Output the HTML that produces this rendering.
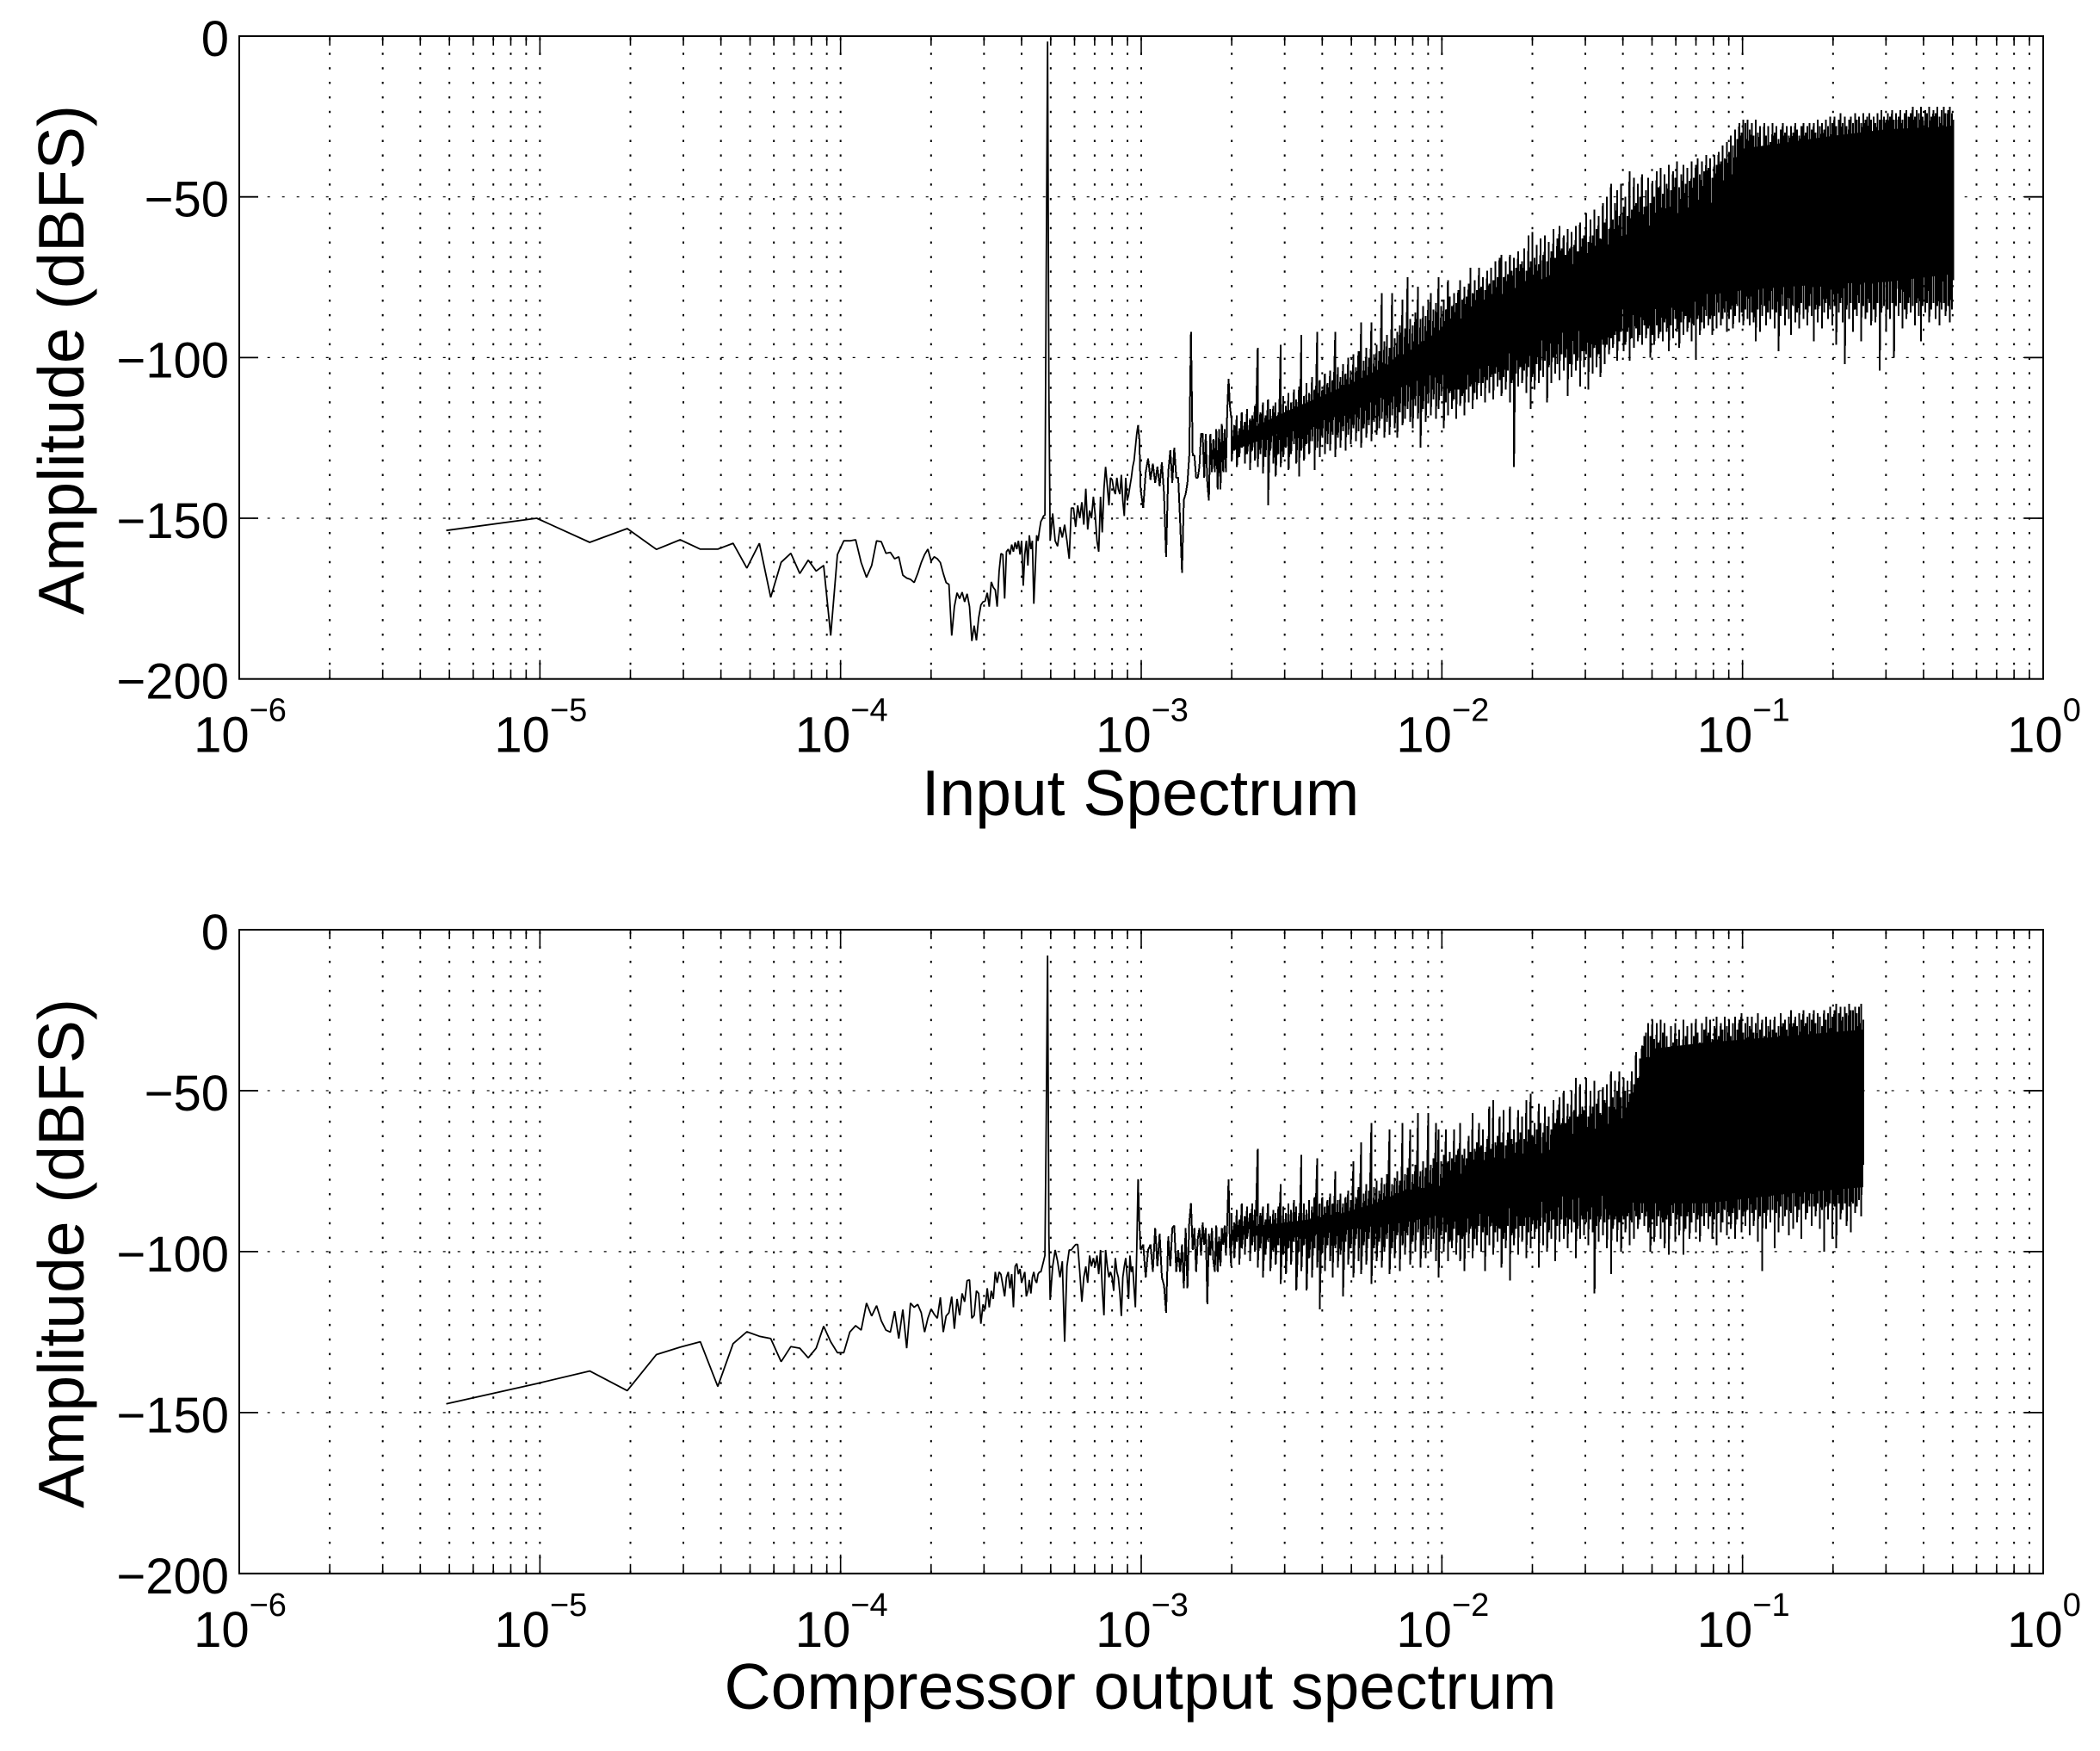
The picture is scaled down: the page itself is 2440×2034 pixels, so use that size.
<!DOCTYPE html>
<html lang="en">
<head>
<meta charset="utf-8">
<title>Input and compressor output spectrum</title>
<style>
html,body{margin:0;padding:0;background:#fff;}
svg{display:block;}
text{font-family:"Liberation Sans",Arial,Helvetica,sans-serif;fill:#000;}
</style>
</head>
<body>
<svg id="figure" xmlns="http://www.w3.org/2000/svg" width="2440" height="2034" viewBox="0 0 2440 2034">
  <rect x="0" y="0" width="2440" height="2034" fill="#ffffff"/>
  <g id="panel-input"></g>
  <g id="panel-output"></g>
  <text transform="translate(97 418) rotate(-90)" text-anchor="middle" font-size="75">Amplitude (dBFS)</text>
  <text x="1325" y="947" text-anchor="middle" font-size="75">Input Spectrum</text>
  <text transform="translate(97 1456) rotate(-90)" text-anchor="middle" font-size="75">Amplitude (dBFS)</text>
  <text x="1325" y="1985" text-anchor="middle" font-size="75">Compressor output spectrum</text>
</svg>
<script>
const xTickExponents = [-6,-5,-4,-3,-2,-1,0];
const xTickExponentLabels = ['−6','−5','−4','−3','−2','−1','0'];
const xTickBaseLabel = '10';
const minorMultipliers = [2,3,4,5,6,7,8,9];
const yTicks = [0,-50,-100,-150,-200];
const yTickLabels = ['0','−50','−100','−150','−200'];
const yGridValues = [-50,-100,-150];
const binWidth = 4.88e-6;
const denseFromBin = 200;

const lowBins = [
1,2,3,4,5,6,7,8,9,10,
11,12,13,14,15,16,17,18,19,20,
21,22,23,24,25,26,27,28,29,30,
31,32,33,34,35,36,37,38,39,40,
41,42,43,44,45,46,47,48,49,50,
51,52,53,54,55,56,57,58,59,60,
61,62,63,64,65,66,67,68,69,70,
71,72,73,74,75,76,77,78,79,80,
81,82,83,84,85,86,87,88,89,90,
91,92,93,94,95,96,97,98,99,100,
101,102,104,106,108,110,112,114,116,118,
120,122,124,126,128,130,132,134,136,138,
140,142,144,146,148,150,152,154,156,158,
160,162,164,166,168,170,172,174,176,178,
180,182,184,186,188,190,192,194,196,198,
200,202,204,208,212,216,220,224,228,232,
236,240,244,248,252,256,260,264,268,272,
276,280,284,288,292,296,300,304,308,312,
316,320,324,328,332,336,340,344,348,352,
356,360,364,368,372,376,380,384,388,392,
396,400,404,408];

const inputLowDb = [
-153.8,-150,-157.5,-153.2,-159.7,-156.7,-159.6,-159.6,-157.8,-165.5,
-157.8,-174.6,-163.7,-160.9,-167.2,-163,-166.4,-164.7,-186.5,-161.3,
-157,-157,-156.7,-163.8,-168.4,-164.7,-157,-157.3,-160.9,-160.6,
-162.6,-162,-167.7,-168.6,-169,-170,-167.2,-163.8,-161.3,-159.6,
-163.3,-162,-162.6,-163.8,-167.2,-170,-170.6,-186.5,-177.5,-173.2,
-175,-173,-176,-173.5,-177.5,-188.2,-183.4,-188,-181,-177,
-176,-175.8,-173.2,-177.5,-169.8,-171.5,-172.3,-177.5,-166.4,-161,
-161.3,-175,-160.4,-159.6,-161.3,-158.2,-160.4,-157.5,-159.6,-157,
-161.3,-157,-171,-161.3,-157,-164.7,-155.3,-159.6,-157,-176.6,
-166.4,-155.3,-157,-153.6,-151,-150.2,-149.3,-149,-74,-1.7,
-110,-157,-148.5,-157,-158.7,-152.7,-156,-152,-157,-162.6,
-146.8,-146.8,-152.7,-146,-150,-145,-152,-140.8,-153.5,-147.6,
-150,-143.3,-149,-157,-160.4,-143.3,-154.4,-140.8,-134,-140,
-146,-137.4,-138,-141,-142.5,-137.4,-141,-142.5,-136.5,-144.5,
-149.3,-137.4,-144.5,-142.8,-140,-137.4,-134,-132,-128,-123.7,
-121,-125.4,-141,-146.8,-135.7,-131.4,-138,-133,-139,-134,
-140,-132.6,-142.5,-162,-135.7,-128.8,-139,-128,-137.4,-137.4,
-151,-167,-144.2,-142.5,-139,-130.5,-92,-130.5,-130.5,-137.4,
-137.4,-134,-123.7,-123.7,-137.4,-123.7,-139,-144.5,-123.7,-135.7,
-125.4,-135.7,-122.3,-141,-122.3,-141,-120.6,-135.7,-122.3,-135.7,
-116.9,-106.6,-115,-118.5];

const outputLowDb = [
-147.3,-141,-137.1,-143.2,-132,-129.7,-128,-141.9,-128.6,-124.9,
-126.3,-127,-134.2,-129.5,-130,-133,-130,-123.2,-128,-131.4,
-131.4,-125,-123,-124.4,-116,-120,-116.8,-121.5,-124.4,-125,
-118.5,-127,-118,-130,-116,-117.3,-116.4,-119,-125,-120.7,
-117.8,-119.5,-120.7,-114.2,-125,-120,-119,-114,-124,-114.7,
-119.8,-113,-115.6,-109,-108.8,-120.7,-119.8,-112.2,-113,-122.4,
-116.4,-118,-111.4,-117.3,-112.2,-114.7,-106.3,-109.7,-106.3,-107.1,
-110.5,-113.9,-108,-106.3,-111.4,-107,-117.3,-104.6,-103.7,-107,
-105.4,-109.7,-108,-106.3,-113.9,-112.2,-108.8,-113,-108,-106.3,
-108.8,-109.7,-107,-106.3,-106.3,-104.6,-103,-101.2,-60,-8,
-95,-115,-104.6,-99.5,-103,-108,-103,-128,-104.6,-99.5,
-99.5,-98.6,-97.8,-97.8,-106.3,-115.6,-108,-104.6,-109.7,-101.2,
-104.6,-102,-104.6,-101.2,-107,-99.5,-111.4,-119.8,-99.5,-104.6,
-108,-106.3,-108,-112.2,-102,-106.3,-108,-113,-120,-108,
-104.6,-102,-108,-114.7,-101.2,-106.3,-104.6,-111.4,-117.3,-99.5,
-77.5,-91,-99.5,-97.8,-108,-99.5,-97.8,-106.3,-92.7,-104.6,
-94.4,-108,-110.5,-119,-95.3,-104.6,-92.7,-91.9,-106.3,-99.5,
-106.3,-97.8,-111.4,-92.7,-111.4,-91,-85,-99.5,-92.7,-106.3,
-96.1,-92.7,-101.2,-91,-97.8,-92.7,-116.4,-94.4,-101.2,-92.7,
-102.9,-106.3,-91.9,-106.3,-95.3,-104.6,-92.7,-97.8,-91.9,-101.2,
-91,-77.5,-97.8,-104.6];

const columnFreqMilli = [
2.00,2.04,2.08,2.12,2.16,2.21,2.25,2.30,2.34,2.39,
2.44,2.49,2.54,2.59,2.64,2.69,2.75,2.80,2.86,2.91,
2.97,3.03,3.09,3.15,3.22,3.28,3.35,3.41,3.48,3.55,
3.62,3.70,3.77,3.85,3.92,4.00,4.08,4.16,4.25,4.33,
4.42,4.51,4.60,4.69,4.78,4.88,4.98,5.08,5.18,5.28,
5.39,5.50,5.61,5.72,5.83,5.95,6.07,6.19,6.31,6.44,
6.57,6.70,6.83,6.97,7.11,7.25,7.40,7.54,7.69,7.85,
8.00,8.16,8.33,8.49,8.66,8.84,9.01,9.19,9.38,9.56,
9.75,9.95,10.15,10.31,10.47,10.64,10.81,10.98,11.16,11.33,
11.51,11.70,11.88,12.07,12.27,12.46,12.66,12.86,13.07,13.28,
13.49,13.70,13.92,14.14,14.37,14.60,14.83,15.07,15.31,15.55,
15.80,16.05,16.31,16.57,16.83,17.10,17.37,17.65,17.93,18.22,
18.51,18.80,19.10,19.41,19.72,20.03,20.35,20.68,21.0,21.3,
21.7,22.0,22.4,22.7,23.1,23.5,23.8,24.2,24.6,25.0,
25.4,25.8,26.2,26.6,27.0,27.5,27.9,28.3,28.8,29.3,
29.7,30.2,30.7,31.2,31.7,32.2,32.7,33.2,33.7,34.3,
34.8,35.4,36.0,36.5,37.1,37.7,38.3,38.9,39.5,40.2,
40.8,41.5,42.1,42.8,43.5,44.2,44.9,45.6,46.3,47.1,
47.8,48.6,49.4,50.1,50.9,51.8,52.6,53.4,54.3,55.1,
56.0,56.9,57.8,58.7,59.7,60.6,61.6,62.6,63.6,64.6,
65.6,66.7,67.7,68.8,69.9,71.0,72.2,73.3,74.5,75.7,
76.9,78.1,79.4,80.6,81.9,83.2,84.6,85.9,87.3,88.7,
90.1,91.5,93.0,94.5,96.0,97.5,99.1,100.7,102.3,103.9,
105.6,107.3,109.0,110.7,112.5,114.3,116.1,118.0,119.8,121.8,
123.7,125.7,127.7,129.7,131.8,133.9,136.0,138.2,140.4,142.6,
144.9,147.2,149.6,152.0,154.4,156.8,159.3,161.9,164.4,167.1,
169.7,172.4,175.2,178.0,180.8,183.7,186.6,189.6,192.6,195.7,
198.8,202,205,209,212,215,219,222,226,229,
233,237,240,244,248,252,256,260,264,268,
273,277,281,286,290,295,300,304,309,314,
319,324,330,335,340,346,351,357,362,368,
374,380,386,392,398,405,411,418,424,431,
438,445,452,459,467,474,482,489,497,503];

const inputPeakDb = [
-119,-121,-118,-122,-117,-120,-116,-119,-118,-115,
-97,-117,-114,-118,-113,-116,-115,-114,-117,-96,
-112,-115,-111,-114,-110,-113,-109,-93,-112,-108,
-111,-106,-110,-92,-107,-110,-105,-108,-104,-107,
-92,-103,-106,-102,-105,-100,-104,-99,-103,-98,
-89,-101,-97,-100,-89,-99,-96,-98,-80,-95,
-93,-97,-80,-94,-92,-90,-82,-91,-75,-88,
-90,-86,-78,-88,-84,-87,-82,-80,-85,-83,
-75,-84,-82,-85,-76,-81,-84,-80,-83,-79,
-76,-82,-78,-81,-77,-72,-80,-76,-79,-72,
-78,-75,-79,-73,-77,-72,-76,-70,-75,-69,
-68,-75,-70,-74,-68,-73,-69,-72,-67,-71,
-70,-66,-73,-62,-70,-61,-69,-65,-71,-63,
-68,-62,-70,-64,-67,-60,-69,-63,-59,-66,
-62,-68,-60,-66,-61,-65,-59,-67,-58,-63,
-62,-55,-64,-57,-62,-54,-60,-56,-63,-52,
-58,-50,-60,-46,-57,-52,-48,-56,-46,-53,
-50,-56,-42,-54,-44,-52,-46,-50,-43,-53,
-48,-44,-52,-45,-50,-42,-47,-41,-49,-43,
-46,-40,-48,-42,-44,-39,-47,-43,-40,-46,
-41,-45,-39,-44,-40,-38,-43,-39,-42,-37,
-41,-38,-44,-37,-40,-36,-39,-34,-38,-33,
-36,-31,-34,-29,-32,-27,-30,-26,-27,-26,
-29,-27,-31,-26,-30,-28,-35,-27,-31,-28,
-33,-27,-30,-28,-32,-29,-27,-30,-28,-31,
-28,-30,-27,-29,-31,-28,-27,-30,-28,-27,
-29,-27,-30,-26,-28,-27,-29,-26,-28,-25,
-27,-25,-28,-26,-24,-27,-25,-28,-26,-25,
-27,-24,-26,-25,-27,-24,-26,-25,-24,-26,
-25,-27,-24,-26,-23,-25,-26,-24,-25,-23,
-26,-24,-25,-23,-26,-24,-23,-25,-24,-22,
-25,-23,-24,-22,-25,-23,-24,-22,-25,-23,
-24,-22,-25,-23,-22,-24,-23,-22,-24,-26];

const inputDipDb = [
-132,-129,-134,-131,-128,-133,-130,-135,-129,-132,
-134,-130,-136,-131,-146,-129,-133,-137,-130,-134,
-131,-128,-135,-130,-127,-133,-137,-129,-132,-127,
-130,-126,-135,-128,-131,-125,-130,-127,-129,-124,
-131,-125,-128,-123,-129,-124,-127,-122,-126,-123,
-128,-122,-125,-121,-126,-120,-124,-122,-119,-125,
-120,-124,-118,-122,-125,-117,-121,-119,-116,-120,
-122,-115,-119,-128,-116,-120,-114,-118,-113,-119,
-116,-112,-122,-114,-118,-111,-116,-113,-119,-110,
-115,-112,-118,-110,-114,-109,-116,-111,-113,-108,
-112,-108,-114,-107,-111,-106,-113,-105,-109,-107,
-112,-106,-110,-104,-114,-108,-134,-105,-109,-103,
-108,-104,-111,-103,-116,-106,-110,-102,-108,-104,
-106,-101,-114,-103,-108,-100,-105,-102,-107,-99,
-104,-100,-112,-102,-106,-99,-104,-101,-109,-98,
-103,-99,-110,-100,-105,-97,-103,-99,-106,-96,
-102,-96,-99,-94,-97,-93,-101,-95,-92,-98,
-96,-92,-101,-94,-97,-91,-95,-93,-96,-90,
-94,-91,-100,-93,-96,-90,-94,-92,-95,-89,
-92,-98,-90,-94,-88,-92,-97,-89,-93,-87,
-92,-89,-95,-90,-100,-88,-93,-89,-91,-87,
-90,-88,-93,-87,-91,-86,-90,-88,-86,-92,
-88,-85,-91,-87,-84,-89,-86,-90,-85,-88,
-90,-86,-89,-95,-85,-92,-87,-84,-90,-86,
-88,-85,-91,-86,-98,-87,-84,-90,-85,-88,
-93,-84,-89,-86,-91,-83,-88,-85,-90,-84,
-87,-95,-85,-89,-84,-91,-86,-83,-88,-85,
-90,-84,-96,-86,-83,-89,-102,-85,-88,-83,
-92,-85,-87,-83,-95,-84,-88,-86,-83,-90,
-85,-89,-83,-104,-86,-84,-92,-85,-88,-83,
-100,-84,-87,-83,-91,-85,-88,-83,-86,-84,
-90,-83,-87,-95,-84,-86,-83,-89,-85,-83,
-88,-84,-90,-85,-83,-87,-84,-89,-85,-76];

const outputPeakDb = [
-88,-91,-87,-90,-85,-89,-86,-88,-85,-87,
-68,-88,-86,-90,-85,-89,-87,-88,-86,-79,
-86,-88,-85,-87,-84,-86,-88,-70,-85,-87,
-84,-86,-83,-71,-85,-83,-86,-84,-82,-85,
-75,-84,-82,-85,-83,-81,-84,-72,-83,-80,
-66,-82,-79,-81,-60,-80,-78,-81,-77,-79,
-76,-62,-79,-77,-75,-78,-60,-76,-74,-62,
-76,-73,-57,-75,-72,-74,-57,-73,-71,-60,
-62,-72,-70,-62,-72,-69,-71,-62,-70,-68,
-60,-70,-68,-71,-64,-69,-57,-68,-66,-60,
-67,-62,-69,-65,-55,-68,-53,-66,-64,-58,
-66,-56,-67,-63,-55,-65,-62,-66,-56,-63,
-58,-65,-53,-62,-51,-64,-60,-62,-54,-60,
-63,-55,-61,-58,-62,-53,-60,-56,-52,-60,
-50,-60,-54,-58,-50,-56,-46,-58,-48,-55,
-56,-46,-58,-50,-55,-47,-54,-50,-57,-49,
-53,-48,-55,-44,-52,-47,-50,-44,-52,-46,
-50,-47,-51,-44,-48,-38,-46,-40,-36,-33,
-32,-29,-33,-28,-34,-29,-35,-28,-32,-29,
-33,-37,-30,-35,-29,-34,-31,-36,-28,-33,
-30,-36,-29,-33,-28,-32,-35,-29,-31,-27,
-32,-28,-34,-30,-27,-33,-29,-31,-27,-30,
-28,-33,-29,-27,-31,-28,-26,-32,-29,-27,
-30,-27,-32,-29,-26,-31,-28,-33,-27,-30,
-28,-31,-27,-32,-30,-26,-29,-28,-31,-27,
-25,-29,-27,-30,-26,-28,-25,-29,-27,-26,
-28,-25,-29,-26,-27,-30,-25,-28,-26,-24,
-27,-25,-23,-26,-24,-27,-24,-26,-23,-25,
-25,-24,-26,-24,-23,-28];

const outputDipDb = [
-98,-102,-97,-104,-99,-101,-96,-103,-98,-100,
-105,-99,-108,-101,-97,-106,-100,-104,-98,-110,
-101,-107,-99,-104,-97,-112,-100,-106,-98,-112,
-102,-108,-99,-105,-118,-100,-106,-98,-103,-108,
-99,-105,-101,-114,-97,-104,-99,-108,-96,-103,
-107,-98,-104,-96,-110,-99,-103,-97,-105,-100,
-96,-107,-99,-102,-95,-106,-98,-101,-95,-104,
-97,-100,-94,-105,-98,-102,-95,-100,-96,-103,
-108,-95,-100,-94,-103,-97,-99,-93,-101,-95,
-103,-96,-106,-94,-99,-93,-102,-96,-98,-92,
-100,-94,-106,-95,-98,-92,-101,-94,-97,-93,
-105,-96,-99,-92,-109,-95,-98,-93,-101,-92,
-97,-92,-102,-94,-99,-91,-96,-93,-105,-92,
-98,-91,-100,-94,-96,-90,-103,-92,-97,-90,
-96,-92,-99,-90,-94,-91,-102,-93,-96,-90,
-95,-91,-98,-90,-94,-113,-92,-97,-90,-95,
-91,-99,-90,-107,-93,-90,-97,-91,-100,-90,
-94,-89,-98,-91,-96,-89,-93,-90,-88,-92,
-89,-94,-100,-90,-97,-92,-89,-96,-91,-99,
-90,-101,-92,-88,-97,-90,-95,-89,-101,-93,
-89,-96,-91,-88,-94,-90,-97,-89,-92,-88,
-93,-89,-96,-90,-98,-88,-94,-91,-87,-95,
-89,-93,-88,-96,-90,-87,-94,-89,-92,-87,
-95,-88,-92,-87,-97,-89,-106,-88,-93,-87,
-91,-87,-99,-88,-94,-86,-92,-89,-87,-95,
-88,-93,-86,-91,-87,-96,-85,-90,-88,-86,
-92,-86,-89,-85,-93,-87,-100,-86,-90,-85,
-96,-86,-99,-85,-90,-87,-85,-92,-86,-94,
-85,-88,-86,-84,-89,-73];

const inputCoreFreqMilli = [2,3,5,7,10,15,20,30,40,60,80,90,100,200,300,503];
const inputCoreTopDb = [-125,-117,-108,-101,-91,-83,-77,-69,-62,-58,-53,-47,-35,-31,-29,-28];
const inputCoreBottomDb = [-129,-123,-117,-110,-104,-100,-95,-90,-85,-81,-80,-80,-79,-77,-76.5,-74];

const outputCoreFreqMilli = [2.4,3,4.3,6,7.5,11.8,20,30,44,46,50,76,142,252];
const outputCoreTopDb = [-92,-91,-89,-85,-81,-78.6,-71,-63,-57,-47,-37,-35,-33,-31];
const outputCoreBottomDb = [-95,-96,-94,-92,-91,-87,-84,-82,-84,-85,-85,-85,-82,-80];

const SVG_NS = 'http://www.w3.org/2000/svg';
const plotLeft = 278;
const plotRight = 2374;
const decadeMin = -6;
const decadeMax = 0;

function make(tag, parent, attrs) {
  const el = document.createElementNS(SVG_NS, tag);
  for (const k in attrs) el.setAttribute(k, attrs[k]);
  parent.appendChild(el);
  return el;
}
function xScale(freq) {
  return plotLeft + (Math.log10(freq) - decadeMin) / (decadeMax - decadeMin) * (plotRight - plotLeft);
}

function drawPanel(parent, top, bottom, lowDb, peakDb, dipDb, coreFreq, coreTop, coreBottom) {
  const yScale = function (db) { return top + (0 - db) / 200 * (bottom - top); };

  for (let d = 0; d < xTickExponents.length - 1; d++) {
    const decade = Math.pow(10, xTickExponents[d]);
    for (const m of minorMultipliers) {
      const gx = xScale(decade * m);
      const gridLine = make('line', parent, {x1: gx, x2: gx, y1: top, y2: bottom, stroke: '#000', 'stroke-width': 2, 'stroke-dasharray': '2.5 14.37', 'stroke-dashoffset': -19.25});
      
      
      const tickTop = make('line', parent, {x1: gx, x2: gx, y1: top, y2: top + 11, stroke: '#000', 'stroke-width': 1.6});
      
      
      const tickBottom = make('line', parent, {x1: gx, x2: gx, y1: bottom, y2: bottom - 11, stroke: '#000', 'stroke-width': 1.6});
      
      
    }
  }

  xTickExponents.forEach(function (exp, i) {
    const tx = xScale(Math.pow(10, exp));
    if (i > 0 && i < xTickExponents.length - 1) {
      const gridMajor = make('line', parent, {x1: tx, x2: tx, y1: top, y2: bottom, stroke: '#000', 'stroke-width': 2, 'stroke-dasharray': '2.5 14.37', 'stroke-dashoffset': -19.25});
      
      
      const tickA = make('line', parent, {x1: tx, x2: tx, y1: top, y2: top + 22, stroke: '#000', 'stroke-width': 1.6});
      
      
      const tickB = make('line', parent, {x1: tx, x2: tx, y1: bottom, y2: bottom - 22, stroke: '#000', 'stroke-width': 1.6});
      
      
    }
    const label = make('text', parent, {x: tx + 1, y: bottom + 85, 'text-anchor': 'middle', 'font-size': 58});
    
    
    const base = make('tspan', label, {});
    base.textContent = xTickBaseLabel;
    const sup = make('tspan', label, {dy: -36, 'font-size': 38});
    sup.textContent = xTickExponentLabels[i];
  });

  yGridValues.forEach(function (v) {
    const gy = yScale(v);
    const gridH = make('line', parent, {x1: plotLeft, x2: plotRight, y1: gy, y2: gy, stroke: '#000', 'stroke-width': 1.2, 'stroke-dasharray': '3 14', 'stroke-dashoffset': -32.7});
    
    
  });

  yTicks.forEach(function (v, i) {
    const ty = yScale(v);
    if (v !== 0 && v !== -200) {
      const tickL = make('line', parent, {x1: plotLeft, x2: plotLeft + 22, y1: ty, y2: ty, stroke: '#000', 'stroke-width': 1.8});
      
      
      const tickR = make('line', parent, {x1: plotRight, x2: plotRight - 22, y1: ty, y2: ty, stroke: '#000', 'stroke-width': 1.8});
      
      
    }
    const yLabel = make('text', parent, {x: 266, y: ty + 23, 'text-anchor': 'end', 'font-size': 58});
    
    
    yLabel.textContent = yTickLabels[i];
  });

  const upper = coreFreq.map(function (f, i) { return xScale(f * 1e-3).toFixed(1) + ',' + yScale(coreTop[i]).toFixed(1); });
  const lower = coreFreq.map(function (f, i) { return xScale(f * 1e-3).toFixed(1) + ',' + yScale(coreBottom[i]).toFixed(1); }).reverse();
  const core = make('polygon', parent, {points: upper.concat(lower).join(' '), fill: '#000', stroke: 'none'});
  
  

  const sparsePts = [];
  const densePts = [];
  lowBins.forEach(function (k, i) {
    const p = xScale(k * binWidth).toFixed(1) + ',' + yScale(lowDb[i]).toFixed(1);
    if (k <= denseFromBin) sparsePts.push(p);
    if (k >= denseFromBin) densePts.push(p);
  });
  const n = Math.min(peakDb.length, dipDb.length, columnFreqMilli.length);
  for (let i = 0; i < n; i++) {
    const cx = xScale(columnFreqMilli[i] * 1e-3).toFixed(1);
    densePts.push(cx + ',' + yScale(peakDb[i]).toFixed(1));
    densePts.push(cx + ',' + yScale(dipDb[i]).toFixed(1));
  }
  const sparseTrace = make('polyline', parent, {points: sparsePts.join(' '), fill: 'none', stroke: '#000', 'stroke-width': 1.8, 'stroke-linejoin': 'bevel'});
  
  
  const denseTrace = make('polyline', parent, {points: densePts.join(' '), fill: 'none', stroke: '#000', 'stroke-width': 2, 'stroke-linejoin': 'bevel', 'shape-rendering': 'crispEdges'});
  
  

  const box = make('rect', parent, {x: plotLeft, y: top, width: plotRight - plotLeft, height: bottom - top, fill: 'none', stroke: '#000', 'stroke-width': 2});
  
  
}

drawPanel(document.getElementById('panel-input'), 42, 788.7, inputLowDb, inputPeakDb, inputDipDb, inputCoreFreqMilli, inputCoreTopDb, inputCoreBottomDb);
drawPanel(document.getElementById('panel-output'), 1080, 1827.8, outputLowDb, outputPeakDb, outputDipDb, outputCoreFreqMilli, outputCoreTopDb, outputCoreBottomDb);
</script>
</body>
</html>
